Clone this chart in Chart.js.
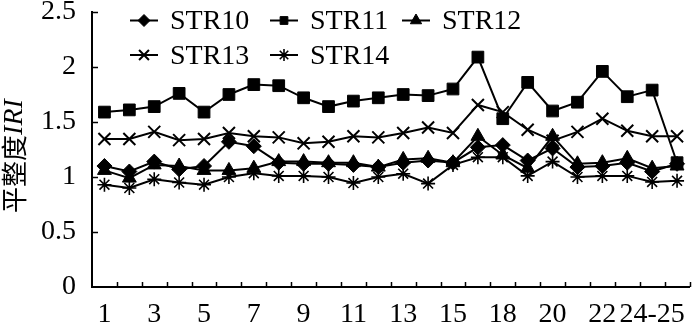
<!DOCTYPE html>
<html><head><meta charset="utf-8">
<script src="https://cdn.jsdelivr.net/npm/chart.js@4.4.1/dist/chart.umd.min.js"></script>
<style>html,body{margin:0;padding:0;background:#fff}</style>
</head><body>
<canvas id="c" width="700" height="325" style="width:700px;height:325px;display:block"></canvas>
<script>
const xLabels = ['1','','3','','5','','7','','9','','11','','13','','15','','18','','20','','22','','24-25',''];
const seriesNames = ['STR10','STR11','STR12','STR13','STR14'];
const str10 = [1.10,1.05,1.14,1.07,1.10,1.32,1.28,1.13,1.12,1.12,1.11,1.09,1.13,1.15,1.13,1.27,1.29,1.15,1.26,1.09,1.10,1.13,1.05,1.12];
const str11 = [1.59,1.61,1.64,1.76,1.59,1.75,1.84,1.83,1.72,1.64,1.69,1.72,1.75,1.74,1.80,2.09,1.53,1.86,1.60,1.68,1.96,1.73,1.79,1.13];
const str12 = [1.06,0.99,1.11,1.10,1.06,1.06,1.08,1.14,1.14,1.13,1.13,1.09,1.16,1.17,1.13,1.37,1.20,1.08,1.37,1.12,1.13,1.17,1.08,1.10];
const str13 = [1.345,1.345,1.41,1.335,1.345,1.40,1.37,1.36,1.306,1.32,1.37,1.36,1.40,1.45,1.40,1.655,1.59,1.43,1.33,1.41,1.53,1.42,1.37,1.37];
const str14 = [0.93,0.90,0.98,0.95,0.93,1.00,1.035,1.01,1.01,1.00,0.945,1.00,1.03,0.94,1.11,1.18,1.18,1.01,1.14,1.00,1.01,1.01,0.955,0.965];
const yMin = 0, yMax = 2.5, yStep = 0.5;
const yTitleCJK = '平整度';
const yTitleLatin = 'IRI';

const styles = [
  {pointStyle:'rectRot', radius:7.5, legendRadius:6, bw:1},
  {pointStyle:'rect', radius:8.3, legendRadius:5.5, bw:1},
  {pointStyle:'triangle', radius:8, legendRadius:6.5, bw:1},
  {pointStyle:'crossRot', radius:8.5, legendRadius:7, bw:2},
  {pointStyle:'star', radius:7, legendRadius:6, bw:1.6}
];
const values = [str10, str11, str12, str13, str14];

const datasets = values.map((v,i)=>({
  label: seriesNames[i],
  data: v,
  borderColor:'#000',
  backgroundColor:'#000',
  borderWidth:2,
  pointStyle: styles[i].pointStyle,
  pointRadius: styles[i].radius,
  pointBorderWidth: styles[i].bw,
  pointBackgroundColor:'#000',
  pointBorderColor:'#000',
  tension:0,
  fill:false
}));

function drawMarker(ctx, style, r, x, y, bw){
  ctx.save();
  ctx.fillStyle='#000'; ctx.strokeStyle='#000'; ctx.lineWidth=bw;
  if (Chart.helpers && Chart.helpers.drawPoint) {
    Chart.helpers.drawPoint(ctx, {pointStyle:style, radius:r, rotation:0, borderWidth:bw}, x, y);
  }
  ctx.restore();
}

const legendPlugin = {
  id:'customLegend',
  afterDraw(chart){
    const ctx = chart.ctx;
    const pos = [[144,20.5,170],[284,20.5,310],[416,20.5,442],[144,55,170],[284,55,310]];
    chart.data.datasets.forEach((ds,i)=>{
      const [mx,my,tx] = pos[i];
      ctx.save();
      ctx.strokeStyle='#000'; ctx.lineWidth=2;
      ctx.beginPath(); ctx.moveTo(mx-14,my); ctx.lineTo(mx+14,my); ctx.stroke();
      ctx.restore();
      drawMarker(ctx, styles[i].pointStyle, styles[i].legendRadius, mx, my, styles[i].bw);
      ctx.save();
      ctx.fillStyle='#000';
      ctx.font='28px "Liberation Serif", "Times New Roman", serif';
      ctx.textBaseline='middle'; ctx.textAlign='left';
      ctx.fillText(ds.label, tx, my+1.5);
      ctx.restore();
    });
  }
};

const tickPlugin = {
  id:'inwardTicks',
  afterDraw(chart){
    const ctx = chart.ctx, xs = chart.scales.x, ys = chart.scales.y;
    ctx.save(); ctx.strokeStyle='#000'; ctx.lineWidth=1.5;
    for (let i=1;i<=xLabels.length;i++){
      const px = Math.round(xs.getPixelForValue(i-0.5))+0.5;
      ctx.beginPath(); ctx.moveTo(px, ys.bottom); ctx.lineTo(px, ys.bottom-5); ctx.stroke();
    }
    ys.ticks.forEach(t=>{
      if (t.value===yMin) return;
      const py = Math.round(ys.getPixelForValue(t.value))+0.5;
      ctx.beginPath(); ctx.moveTo(xs.left, py); ctx.lineTo(xs.left+6, py); ctx.stroke();
    });
    ctx.restore();
  }
};

const yTitlePlugin = {
  id:'yTitle',
  afterDraw(chart){
    const ctx = chart.ctx;
    const cx = 14, cy = 156;
    ctx.save();
    ctx.translate(cx, cy); ctx.rotate(-Math.PI/2);
    const f1 = '26px "Noto Sans CJK SC", sans-serif';
    const f2 = 'italic 28px "Liberation Serif", "Times New Roman", serif';
    ctx.font = f1; const w1 = ctx.measureText(yTitleCJK).width;
    ctx.font = f2; const w2 = ctx.measureText(yTitleLatin).width;
    const start = -(w1+w2)/2;
    ctx.fillStyle='#000'; ctx.textBaseline='middle'; ctx.textAlign='left';
    ctx.font = f1; ctx.fillText(yTitleCJK, start, 0);
    ctx.font = f2; ctx.fillText(yTitleLatin, start+w1, 1);
    ctx.restore();
  }
};

new Chart(document.getElementById('c'), {
  type:'line',
  data:{ labels:xLabels, datasets },
  options:{
    responsive:false,
    animation:false,
    devicePixelRatio:1,
    layout:{ padding:{ top:12, right:1, left:0, bottom:0 } },
    plugins:{ legend:{display:false}, tooltip:{enabled:false} },
    scales:{
      x:{
        type:'category',
        offset:true,
        grid:{ display:false, drawTicks:false },
        border:{ display:true, color:'#000', width:2 },
        ticks:{ autoSkip:false, maxRotation:0, minRotation:0, padding:11, color:'#000',
                font:{ family:'"Liberation Serif", "Times New Roman", serif', size:28 } },
        afterFit(s){ s.height = 38; s.paddingTop = 0; s.paddingBottom = 0; }
      },
      y:{
        min:yMin, max:yMax,
        grid:{ display:false, drawTicks:false },
        border:{ display:true, color:'#000', width:2 },
        ticks:{ stepSize:yStep, padding:16, color:'#000',
                callback:(v)=>String(Math.round(v*10)/10),
                font:{ family:'"Liberation Serif", "Times New Roman", serif', size:28, lineHeight:1 } },
        afterFit(s){ s.width = 92; s.paddingTop = 0; s.paddingBottom = 0; }
      }
    }
  },
  plugins:[tickPlugin, legendPlugin, yTitlePlugin]
});
</script>
</body></html>
